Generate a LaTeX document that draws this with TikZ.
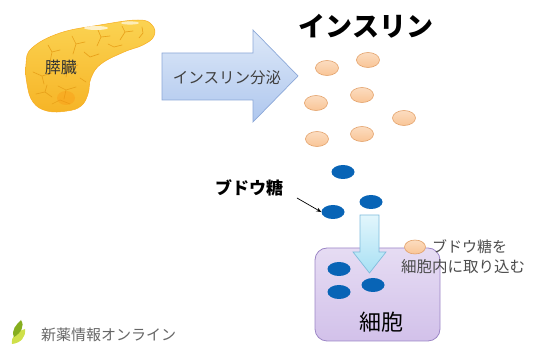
\documentclass[tikz,border=0pt]{standalone}
\usepackage{fontspec}
\setmainfont{Noto Sans CJK JP}
\usetikzlibrary{arrows.meta,shapes.geometric}
\definecolor{goldA}{HTML}{F6B426}
\definecolor{goldB}{HTML}{FBD352}
\definecolor{goldVein}{HTML}{E8A11A}
\definecolor{peachFill}{HTML}{F9C596}
\definecolor{peachEdge}{HTML}{E3A26A}
\definecolor{glucose}{HTML}{0864B6}
\definecolor{cellFill}{HTML}{E6DCF3}
\definecolor{cellFillB}{HTML}{D2C1EA}
\definecolor{cellEdge}{HTML}{9C86C6}
\definecolor{arrowTop}{HTML}{DDE8F8}
\definecolor{arrowBot}{HTML}{AFC7EE}
\definecolor{arrowEdge}{HTML}{8CA8D8}
\definecolor{downTop}{HTML}{E2F6FC}
\definecolor{downBot}{HTML}{A8E0F4}
\definecolor{downEdge}{HTML}{7FBCDC}
\definecolor{leafDark}{HTML}{86AE1E}
\definecolor{leafLight}{HTML}{CFE04A}
\tikzset{
  insulin/.style={ellipse, minimum width=23pt, minimum height=15pt, inner sep=0pt,
    draw=peachEdge, line width=0.6pt, top color=peachFill!60!white, bottom color=peachFill},
  sugar/.style={ellipse, minimum width=23pt, minimum height=14pt, inner sep=0pt,
    fill=glucose},
  label/.style={inner sep=0pt, text=black!80},
  vein/.style={draw=goldVein, line width=0.65pt, line cap=round, line join=round}
}
\begin{document}
\begin{tikzpicture}[x=1pt, y=-1pt]
\useasboundingbox (0,0) rectangle (539,344);

% pancreas body
\path[top color=goldB, bottom color=goldA, draw=goldA!85!orange, line width=0.5pt]
  plot[smooth cycle, tension=0.7] coordinates {
    (32,48) (60,33) (100,25) (138,20) (152,25) (154,36) (143,45) (124,52)
    (101,64) (91,78) (88,94) (81,106) (67,111) (47,111) (33,102) (27,84) (26,64)};
% lobule pattern
\begin{scope}[vein]
  \draw (48,45) -- (52,52) -- (50,62) (52,52) -- (60,50);
  \draw (72,36) -- (76,44) -- (73,54) (76,44) -- (85,42);
  \draw (98,30) -- (101,37) -- (97,46) (101,37) -- (110,36);
  \draw (122,26) -- (125,32) -- (120,40) (125,32) -- (133,31);
  \draw (142,27) -- (143,33) -- (139,38);
  \draw (33,72) -- (42,76) -- (52,73) (42,76) -- (44,84);
  \draw (62,62) -- (68,68) -- (78,65) (68,68) -- (66,77);
  \draw (84,52) -- (90,57) -- (99,54);
  \draw (108,44) -- (114,47) -- (122,45);
  \draw (36,94) -- (45,92) -- (52,97) (45,92) -- (47,85);
  \draw (58,86) -- (66,90) -- (76,87) (66,90) -- (64,99);
  \draw (52,104) -- (60,100) -- (70,104);
  \draw (80,78) -- (86,82);
\end{scope}
\fill[orange!70!goldA, opacity=0.3] (66,98) ellipse (9pt and 7pt);
\fill[white, opacity=0.7] (96,28) ellipse (12pt and 2pt);
\fill[white, opacity=0.6] (130,23) ellipse (9pt and 1.6pt);
\node[label, font=\fontsize{16}{16}\selectfont] (pancreas) at (61,67) {膵臓};

% secretion arrow
\path[top color=arrowTop, bottom color=arrowBot, draw=arrowEdge, line width=0.7pt, line join=miter]
  (162,53) -- (253,53) -- (253,30) -- (298,76) -- (253,122) -- (253,100) -- (162,100) -- cycle;
\node[label, text=black!75, font=\fontsize{15.5}{15.5}\selectfont] (secrete) at (227,78) {インスリン分泌};

% title
\node[inner sep=0pt, font=\fontsize{27}{27}\selectfont\bfseries] (title) at (366,26) {インスリン};

% insulin particles
\node[insulin] (i1) at (327,68) {};
\node[insulin] (i2) at (368,60) {};
\node[insulin] (i3) at (316,103) {};
\node[insulin] (i4) at (362,95) {};
\node[insulin] (i5) at (404,118) {};
\node[insulin] (i6) at (317,139) {};
\node[insulin] (i7) at (362,134) {};

% glucose outside the cell
\node[sugar] (g1) at (343,172) {};
\node[sugar] (g2) at (333,212) {};
\node[sugar] (g3) at (371,202) {};
\node[inner sep=0pt, font=\fontsize{17}{17}\selectfont\bfseries] (glabel) at (249,188) {ブドウ糖};
\coordinate (gtail) at (297,198);
\draw[-{Stealth[length=5pt,width=4pt]}, line width=0.7pt] (gtail) -- (g2.west);

% cell
\path[rounded corners=12pt, top color=cellFill, bottom color=cellFillB, draw=cellEdge, line width=0.8pt]
  (315,248) rectangle (440,341);
\node[inner sep=0pt, font=\fontsize{22}{22}\selectfont] (cell) at (381,322) {細胞};
\node[sugar] (g4) at (339,269) {};
\node[sugar] (g5) at (339,292) {};
\node[sugar] (g6) at (373,285) {};

% uptake arrow
\path[top color=downTop, bottom color=downBot, draw=downEdge, line width=0.7pt, line join=miter]
  (360,215) -- (379,215) -- (379,252) -- (386,252) -- (369.5,273) -- (353,252) -- (360,252) -- cycle;

% receptor and its note
\node[insulin, minimum width=21pt, minimum height=14pt] (rec) at (415,247) {};
\node[inner sep=0pt, text=black!70, font=\fontsize{15}{15}\selectfont, anchor=west] (note1) at (432,247) {ブドウ糖を};
\node[inner sep=0pt, text=black!70, font=\fontsize{15.5}{15.5}\selectfont, anchor=west] (note2) at (401,267) {細胞内に取り込む};

% logo mark
\fill[leafLight] (12,344) .. controls (11,336) and (16,332) .. (25,329) .. controls (26,337) and (21,343) .. (12,344) -- cycle;
\fill[leafDark] (14,337) .. controls (11,330) and (16,325) .. (21,320) .. controls (25,326) and (21,333) .. (14,337) -- cycle;
\node[inner sep=0pt, text=black!60, font=\fontsize{15}{15}\selectfont, anchor=west] (logo) at (41,335) {新薬情報オンライン};
\end{tikzpicture}
\end{document}
